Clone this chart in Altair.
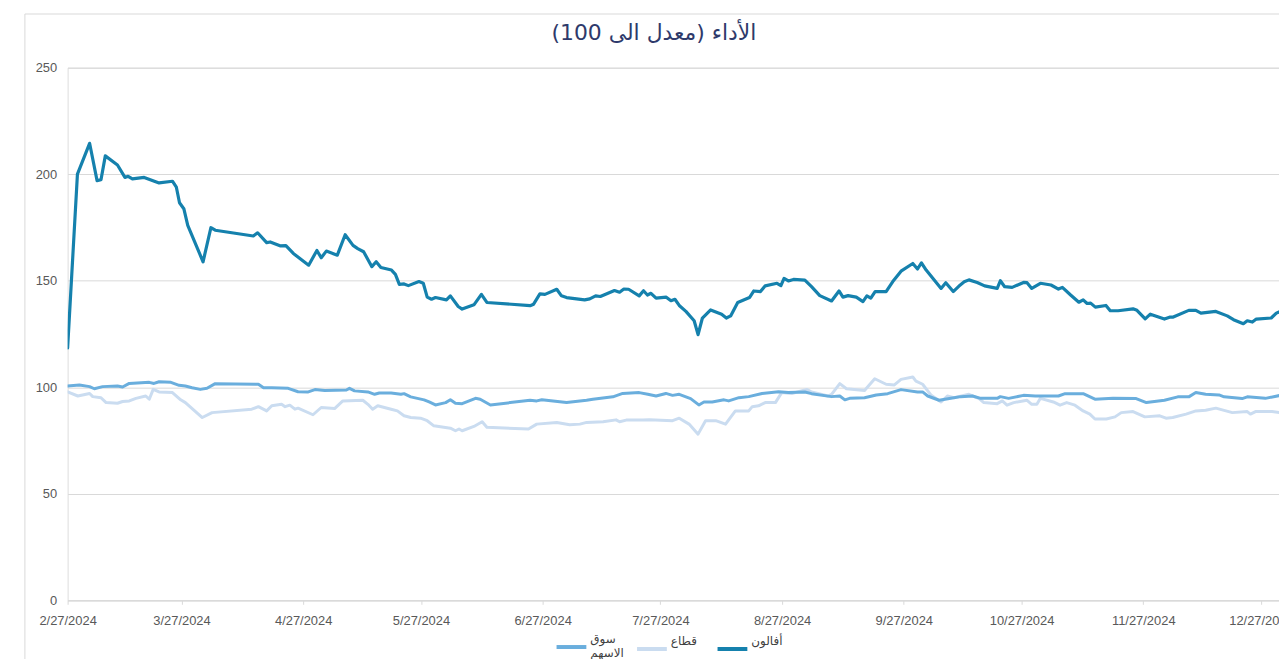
import altair as alt
import pandas as pd

START = "2024-02-27"

# أفالون (days since 2024-02-27, indexed value)
avalon_days = [0, 2.5, 5.6, 7.5, 8.5, 9.6, 12.7, 14.6, 15.4, 16.5, 19.5, 23.3, 26.7, 27.7, 28.5, 29.6,
               30.6, 34.5, 36.5, 37.6, 47.3, 48.4, 50.7, 51.6, 54.1, 55.6, 57.5, 61.4, 63.5, 64.6,
               65.9, 68.7, 70.7, 72.7, 73.9, 75.4, 77.5, 78.6, 79.8, 82.5, 83.5, 84.5, 85.7, 86.8,
               89.5, 90.6, 91.6, 92.7, 93.7, 96.5, 97.5, 99.5, 100.5, 103.5, 105.4, 106.8, 117.8,
               118.7, 120.3, 121.6, 124.6, 125.8, 127.1, 131.7, 133.0, 134.5, 135.7, 139.3, 140.6,
               141.7, 142.9, 145.6, 146.7, 147.7, 148.6, 149.9, 152.5, 153.7, 154.7, 155.8, 157.5,
               159.6, 160.6, 161.7, 163.8, 166.6, 167.8, 168.9, 170.7, 173.7, 174.8, 176.5, 177.7,
               180.7, 181.7, 182.5, 183.6, 184.9, 187.8, 189.5, 191.6, 194.6, 196.5, 197.5, 198.8,
               200.9, 202.6, 203.6, 204.6, 205.7, 208.5, 210.2, 212.3, 215.3, 216.5, 217.5, 218.7,
               222.5, 223.7, 225.6, 227.0, 228.4, 229.6, 231.7, 233.6, 236.8, 237.6, 238.7, 240.6,
               243.5, 244.4, 245.6, 247.8, 250.5, 252.4, 253.4, 255.5, 257.6, 258.7, 259.7, 260.6,
               261.8, 264.5, 265.6, 267.6, 271.4, 272.4, 274.5, 275.8, 279.4, 280.7, 281.5, 285.6,
               287.4, 288.7, 292.5, 295.4, 297.0, 299.5, 300.5, 301.8, 302.8, 306.6, 307.9, 308.9]
avalon_vals = [118.5, 200.0, 214.5, 197.0, 197.4, 208.6, 204.3, 198.5, 199.0, 197.8, 198.5, 195.9,
               196.7, 193.9, 186.6, 183.8, 176.0, 158.9, 174.9, 173.7, 171.0, 172.5, 167.9, 168.2,
               166.4, 166.5, 162.8, 157.3, 164.2, 160.8, 163.9, 162.0, 171.6, 166.6, 165.1, 163.6,
               156.6, 158.9, 156.2, 155.0, 153.0, 148.3, 148.5, 147.7, 149.6, 148.8, 142.3, 141.3,
               142.1, 141.0, 142.9, 137.9, 136.7, 138.7, 143.6, 139.8, 138.3, 139.0, 143.8, 143.6,
               146.0, 142.9, 142.1, 141.0, 141.5, 142.9, 142.6, 145.4, 144.6, 146.1, 146.0, 142.9,
               145.3, 143.3, 144.1, 141.8, 142.3, 140.6, 141.3, 138.4, 135.6, 131.2, 124.7, 132.5,
               136.3, 134.3, 132.5, 133.5, 139.8, 142.1, 145.2, 144.9, 147.6, 148.8, 147.7, 151.1,
               149.9, 150.6, 150.3, 147.2, 143.0, 140.5, 145.2, 142.3, 143.0, 142.3, 140.2, 142.9,
               141.8, 144.9, 144.9, 149.6, 154.5, 158.1, 155.5, 158.4, 155.0, 146.4, 149.1, 144.9,
               147.4, 149.5, 150.4, 149.2, 147.6, 146.4, 150.0, 147.2, 146.9, 149.2, 149.1, 146.4,
               148.8, 148.0, 146.1, 146.9, 143.3, 139.9, 141.0, 139.3, 139.5, 137.6, 138.4, 135.9,
               135.9, 136.8, 136.1, 132.1, 134.3, 132.0, 132.9, 132.9, 136.1, 136.1, 134.8, 135.6,
               133.5, 131.7, 129.8, 131.2, 130.6, 132.0, 132.5, 134.8, 135.6]

# سوق الاسهم
market_days = [0, 3.0, 5.6, 6.8, 8.9, 12.7, 14.0, 15.7, 20.8, 22.0, 23.3, 26.3, 28.4, 30.0, 31.7,
               33.8, 35.5, 37.6, 48.6, 49.9, 52.0, 56.2, 58.7, 61.3, 63.0, 65.5, 71.0, 71.8, 73.1,
               76.5, 78.2, 79.4, 82.4, 84.9, 85.7, 87.4, 90.8, 92.1, 93.7, 96.3, 97.5, 98.8, 100.5,
               103.9, 105.1, 107.7, 117.8, 119.5, 120.8, 127.1, 132.2, 133.8, 138.9, 141.4, 145.6,
               147.8, 149.9, 152.4, 154.1, 155.8, 158.7, 160.8, 162.1, 164.2, 167.2, 168.4, 171.0,
               173.5, 176.9, 181.1, 183.6, 187.8, 189.5, 194.6, 196.7, 198.0, 199.2, 203.0, 206.0,
               208.9, 212.3, 216.5, 217.8, 219.1, 222.0, 225.0, 227.5, 230.5, 232.6, 236.8, 237.6,
               239.7, 243.5, 246.5, 252.4, 254.1, 258.7, 261.7, 266.3, 272.2, 274.8, 279.4, 282.8,
               285.7, 287.4, 289.9, 293.3, 294.6, 299.2, 300.5, 305.1, 308.9]
market_vals = [100.6, 101.1, 100.3, 99.3, 100.3, 100.6, 100.1, 101.8, 102.3, 101.8, 102.6, 102.3,
               100.9, 100.6, 99.8, 99.0, 99.5, 101.7, 101.4, 99.8, 99.8, 99.5, 97.9, 97.8, 98.9,
               98.5, 98.7, 99.5, 98.3, 97.8, 96.7, 97.3, 97.3, 96.7, 97.0, 95.5, 94.1, 93.1, 91.7,
               92.8, 94.1, 92.5, 92.3, 94.8, 94.4, 91.7, 93.9, 93.6, 94.1, 92.8, 93.9, 94.4, 95.5,
               97.1, 97.5, 96.7, 95.9, 97.1, 96.2, 96.7, 94.7, 91.7, 93.1, 93.1, 94.1, 93.6, 95.1,
               95.6, 97.1, 97.9, 97.5, 97.8, 97.0, 95.6, 95.9, 94.1, 94.8, 95.1, 96.4, 97.0, 98.9,
               97.8, 97.8, 95.9, 93.9, 94.8, 95.6, 95.9, 94.8, 94.8, 95.6, 94.8, 96.2, 95.9, 95.9,
               97.0, 97.0, 94.4, 94.8, 94.7, 92.8, 93.9, 95.5, 95.6, 97.5, 96.7, 96.4, 95.5, 94.7,
               95.5, 94.8, 96.2]

# قطاع
sector_days = [0, 2.6, 5.6, 6.4, 8.5, 9.8, 12.7, 14.0, 15.7, 17.4, 19.9, 20.8, 21.8, 23.3, 26.7,
               28.8, 30.0, 34.3, 36.8, 46.9, 48.6, 50.7, 52.0, 54.5, 55.4, 56.6, 57.9, 58.7, 62.5,
               64.6, 68.0, 70.1, 75.2, 76.5, 77.7, 79.0, 82.4, 84.0, 85.7, 87.4, 89.9, 91.6, 93.3,
               97.5, 98.8, 99.7, 100.5, 103.5, 105.6, 106.8, 117.4, 119.5, 124.6, 127.9, 130.5,
               132.2, 136.4, 139.7, 140.6, 142.3, 146.5, 148.2, 154.1, 155.8, 158.3, 160.6, 162.5,
               165.1, 167.6, 170.1, 173.5, 174.4, 176.0, 177.7, 180.3, 181.9, 184.5, 188.3, 189.5,
               193.7, 194.6, 196.7, 198.4, 203.0, 205.6, 208.5, 210.6, 212.3, 215.3, 216.1, 217.8,
               219.9, 222.5, 224.1, 225.8, 229.6, 232.2, 233.4, 236.8, 238.1, 239.3, 241.0, 244.4,
               245.6, 246.9, 247.8, 251.1, 252.8, 254.5, 256.6, 258.7, 260.4, 261.7, 264.6, 266.8,
               268.4, 271.4, 274.4, 278.2, 279.8, 281.5, 284.9, 287.4, 289.9, 292.5, 296.7, 300.5,
               301.3, 302.6, 306.8, 308.9]
sector_vals = [97.8, 95.9, 97.1, 95.6, 95.1, 92.8, 92.5, 93.3, 93.6, 94.8, 95.9, 94.4, 99.0, 97.8,
               97.5, 94.1, 92.8, 85.8, 88.1, 89.7, 90.9, 88.9, 91.3, 92.0, 90.9, 91.6, 89.7, 90.2,
               87.1, 90.5, 90.0, 93.6, 93.9, 92.0, 89.7, 91.3, 89.7, 88.9, 86.6, 85.8, 85.5, 84.3,
               81.9, 80.8, 79.6, 80.4, 79.6, 81.6, 83.8, 81.2, 80.4, 82.7, 83.5, 82.4, 82.7, 83.5,
               83.8, 84.7, 83.8, 84.6, 84.6, 84.7, 84.3, 85.5, 82.7, 78.0, 84.3, 84.3, 82.7, 88.9,
               88.9, 90.9, 91.3, 92.8, 92.8, 97.5, 97.1, 99.0, 97.8, 95.9, 96.7, 101.7, 99.3, 98.5,
               104.0, 101.4, 101.1, 103.7, 104.8, 102.9, 101.4, 96.4, 93.1, 95.9, 95.1, 96.7, 94.7,
               92.8, 92.3, 93.6, 91.6, 92.8, 93.9, 92.0, 92.0, 94.8, 93.1, 91.6, 92.8, 91.6, 88.9,
               87.4, 85.1, 85.1, 86.1, 88.1, 88.6, 86.1, 86.6, 85.5, 85.8, 87.4, 88.9, 89.2, 90.2,
               88.1, 88.6, 87.4, 88.6, 88.6, 88.1]

TITLE = "الأداء (معدل الى 100)"
SERIES = ["سوق الاسهم", "قطاع", "أفالون"]
COLORS = ["#6aaedd", "#cadcf0", "#1581ad"]
TICK_MONTHS = [2, 3, 4, 5, 6, 7, 8, 9, 10, 11, 12]
Y_TICKS = [0, 50, 100, 150, 200, 250]


def make_frame(name, days, vals):
    dates = pd.Timestamp(START) + pd.to_timedelta(days, unit="D")
    return pd.DataFrame({"date": dates.strftime("%Y-%m-%dT%H:%M:%S"), "value": vals, "series": name})


df = pd.concat([
    make_frame(SERIES[1], sector_days, sector_vals),
    make_frame(SERIES[0], market_days, market_vals),
    make_frame(SERIES[2], avalon_days, avalon_vals),
], ignore_index=True)

W, H = 1219, 536
AXIS_FONT = "Liberation Sans"

x_enc = alt.X(
    "date:T",
    scale=alt.Scale(domain=[alt.DateTime(year=2024, month=2, date=27),
                            alt.DateTime(year=2024, month=12, date=31, hours=14)]),
    axis=alt.Axis(
        values=[alt.DateTime(year=2024, month=m, date=27) for m in TICK_MONTHS],
        format="%-m/%-d/%Y", grid=False, domainColor="#d9d9d9", tickColor="#d9d9d9",
        tickSize=4, labelFont=AXIS_FONT, labelFontSize=13, labelColor="#595959",
        labelPadding=10, labelOverlap=False, labelFlush=False, labelBound=False, title=None,
    ),
)
y_enc = alt.Y(
    "value:Q",
    scale=alt.Scale(domain=[0, 250], nice=False),
    axis=alt.Axis(
        values=Y_TICKS, gridColor="#d9d9d9", domain=False, ticks=False,
        labelFont=AXIS_FONT, labelFontSize=13, labelColor="#595959", labelPadding=11, title=None,
    ),
)
color_enc = alt.Color(
    "series:N",
    scale=alt.Scale(domain=SERIES, range=COLORS),
    legend=alt.Legend(
        orient="none", legendX=490, legendY=566, direction="horizontal", title=None,
        symbolType="stroke", symbolSize=900, symbolStrokeWidth=4, gridAlign="all",
        labelFont="DejaVu Sans", labelFontSize=12, labelColor="#404040", labelOffset=2,
        labelBaseline="line-bottom", columnPadding=5, labelLimit=200,
        labelExpr="datum.label == 'سوق الاسهم' ? ['سوق', 'الاسهم'] : datum.label",
    ),
)

one = pd.DataFrame({"k": [0]})

frame = alt.Chart(one).mark_rect(
    filled=False, stroke="#d9d9d9", strokeWidth=1, clip=False
).encode(x=alt.value(-43), x2=alt.value(W + 200), y=alt.value(-54), y2=alt.value(H + 200))

title = alt.Chart(one).mark_text(
    text=TITLE, font="DejaVu Sans", fontSize=22, color="#2e3a6b",
    align="center", baseline="middle", clip=False
).encode(x=alt.value(590), y=alt.value(-35))

layers = [frame, title]
for s in [SERIES[1], SERIES[0], SERIES[2]]:
    layers.append(
        alt.Chart(df).transform_filter(alt.datum.series == s).mark_line(
            strokeWidth=3.2 if s == SERIES[2] else 3, clip=True, strokeJoin="round", strokeCap="round"
        ).encode(x=x_enc, y=y_enc, color=color_enc)
    )

chart = alt.layer(*layers).properties(
    width=W, height=H,
    autosize=alt.AutoSizeParams(type="none"),
    padding={"left": 60, "top": 58, "right": 0, "bottom": 57},
).configure_view(stroke=None).configure(background="white")

chart.save("out.html", embed_options={"renderer": "svg", "actions": False})
